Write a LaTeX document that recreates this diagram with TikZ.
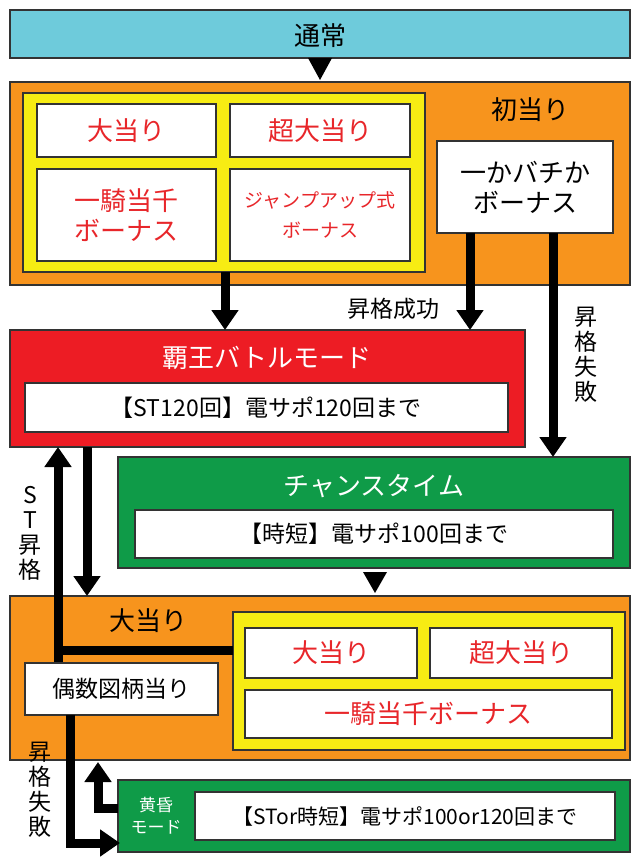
\documentclass[tikz,border=0pt]{standalone}
\usepackage{fontspec}
\setmainfont{Noto Sans CJK JP}
\usetikzlibrary{arrows.meta}
\definecolor{cy}{HTML}{6ECBDB}
\definecolor{org}{HTML}{F7941D}
\definecolor{yel}{HTML}{F7EC13}
\definecolor{rd}{HTML}{ED1C24}
\definecolor{gr}{HTML}{0F9B48}
\definecolor{tr}{HTML}{E8262A}
\tikzset{
 bx/.style={draw=black!80,line width=1.2pt},
 wb/.style={bx,fill=white},
 big/.style={font=\fontsize{26}{30}\selectfont},
 mid/.style={font=\fontsize{23}{27}\selectfont},
 arr/.style={line width=9pt,-{Triangle[width=26pt,length=20pt]}},
 ln/.style={line width=9pt},
 tri/.style={fill=black}
}
\begin{document}
\begin{tikzpicture}[x=1pt,y=-1pt]
\useasboundingbox (0,0) rectangle (640,859);
% top
\draw[bx,fill=cy] (10,10) rectangle (630,58);
\node[big] (top) at (320,36) {通常};
\fill[tri] (308,58) -- (332,58) -- (320,80) -- cycle;
% first hit
\draw[bx,fill=org] (10,82) rectangle (630,285);
\draw[bx,fill=yel] (23,93) rectangle (425,272);
\draw[wb] (37,104) rectangle (216,157);
\node[big,text=tr] at (126.5,131) {大当り};
\draw[wb] (230,104) rectangle (410,157);
\node[big,text=tr] at (320,131) {超大当り};
\draw[wb] (37,169) rectangle (216,261);
\node[big,text=tr,align=center] at (126.5,215) {一騎当千\\ボーナス};
\draw[wb] (230,169) rectangle (410,261);
\node[text=tr,align=center,font=\fontsize{19}{30}\selectfont] at (320,215) {ジャンプアップ式\\ボーナス};
\node[big] at (530,110) {初当り};
\draw[wb] (437,141) rectangle (613,233);
\node[big,align=center] (ikabachi) at (525,187) {一かバチか\\ボーナス};
% red
\draw[bx,fill=rd] (10,330) rectangle (525,447);
\node[big,text=white] at (267,358) {覇王バトルモード};
\draw[wb] (25,383) rectangle (508,432);
\node[mid] at (266,408) {【ST120回】電サポ120回まで};
% green
\draw[bx,fill=gr] (118,457) rectangle (630,568);
\node[big,text=white] at (374,486) {チャンスタイム};
\draw[wb] (135,510) rectangle (613,558);
\node[mid] at (374,534) {【時短】電サポ100回まで};
\fill[tri] (363,572) -- (387,572) -- (375,593) -- cycle;
% connectors top
\coordinate (a1) at (225,272); \coordinate (a2) at (225,330);
\draw[arr] (a1) -- (a2);
\coordinate (b1) at (470,233); \coordinate (b2) at (470,330);
\draw[arr] (b1) -- (b2);
\node[mid] at (393,309) {昇格成功};
\coordinate (c1) at (553,233); \coordinate (c2) at (553,457);
\draw[arr] (c1) -- (c2);
\node[mid,align=center,font=\fontsize{23}{25}\selectfont] at (586,355) {昇\\格\\失\\敗};
% bottom orange
\draw[bx,fill=org] (10,596) rectangle (630,760);
\node[big] at (148,621) {大当り};
\draw[bx,fill=yel] (233,612) rectangle (625,750);
\draw[wb] (245,628) rectangle (417,678);
\node[big,text=tr] at (331,653) {大当り};
\draw[wb] (430,628) rectangle (612,678);
\node[big,text=tr] at (521,653) {超大当り};
\draw[wb] (245,690) rectangle (612,738);
\node[big,text=tr] at (428,714) {一騎当千ボーナス};
% thick lines in the lower part
\coordinate (u0) at (58,664); \coordinate (u1) at (58,447);
\draw[ln] (233,650) -- (58,650);
\draw[arr] (u0) -- (u1);
\coordinate (d0) at (87,447); \coordinate (d1) at (87,596);
\draw[arr] (d0) -- (d1);
\node[mid,align=center,font=\fontsize{23}{25}\selectfont] at (30,533) {S\\T\\昇\\格};
\draw[wb] (25,663) rectangle (218,715);
\node[mid] (gusu) at (121.5,689) {偶数図柄当り};
% yellow-dusk
\draw[bx,fill=gr] (118,780) rectangle (630,852);
\node[text=white,align=center,font=\fontsize{17}{22}\selectfont] at (156,816) {黄昏\\モード};
\draw[wb] (195,792) rectangle (615,840);
\node[font=\fontsize{21}{25}\selectfont] at (405,816) {【STor時短】電サポ100or120回まで};
\draw[line width=9pt,-{Triangle[width=26pt,length=20pt]}] (70,715) -- (70,843) -- (120,843);
\draw[line width=9pt,-{Triangle[width=26pt,length=20pt]}] (118,808) -- (98,808) -- (98,762);
\node[mid,align=center,font=\fontsize{23}{25}\selectfont] at (40,790) {昇\\格\\失\\敗};
\end{tikzpicture}
\end{document}
